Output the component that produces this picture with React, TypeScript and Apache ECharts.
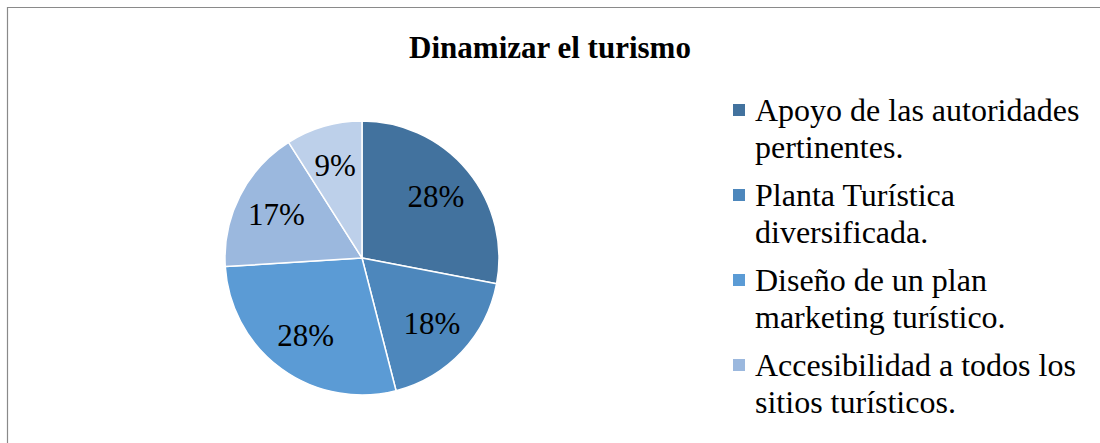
import React, { useEffect, useRef } from 'react';
import * as echarts from 'echarts';

const chartTitle = 'Dinamizar el turismo';
const categories = [
  'Apoyo de las autoridades\npertinentes.',
  'Planta Turística\ndiversificada.',
  'Diseño de un plan\nmarketing turístico.',
  'Accesibilidad a todos los\nsitios turísticos.',
  'Otros',
];
const values = [28, 18, 28, 17, 9];
const colors = ['#42729e', '#4d87bc', '#5b9bd5', '#9bb8de', '#bdd0ea'];
const legendCount = 4;

const FONT = 'Liberation Serif';

export default function App() {
  const ref = useRef<HTMLDivElement>(null);
  useEffect(() => {
    if (!ref.current) return;
    const chart = echarts.init(ref.current, undefined, { renderer: 'svg' });
    const data = categories.map((name, i) => ({
      name,
      value: values[i],
      itemStyle: { color: colors[i] },
    }));
    chart.setOption({
      animation: false,
      backgroundColor: '#ffffff',
      title: {
        text: chartTitle,
        left: 'center',
        top: 29,
        padding: [0, 0, 0, 10],
        textStyle: {
          fontFamily: FONT,
          fontWeight: 'bold',
          fontSize: 31,
          lineHeight: 36,
          color: '#000',
        },
      },
      legend: {
        orient: 'vertical',
        left: 731,
        top: 54.5,
        height: 1000,
        padding: 0,
        itemWidth: 14,
        itemHeight: 14,
        itemGap: -26,
        icon: 'rect',
        selectedMode: false,
        data: categories.slice(0, legendCount),
        formatter: (name: string) => '\n' + name,
        textStyle: {
          fontFamily: FONT,
          fontSize: 32,
          lineHeight: 37,
          color: '#000',
          padding: [0, 0, 0, 4],
        },
      },
      graphic: [
        {
          type: 'rect',
          silent: true,
          z: -10,
          shape: { x: 7.5, y: 7.5, width: 1200, height: 600 },
          style: { fill: 'none', stroke: '#8a8a8a', lineWidth: 1.2 },
        },
      ],
      series: [
        {
          type: 'pie',
          center: [362, 258],
          radius: 137,
          startAngle: 90,
          clockwise: true,
          silent: true,
          label: { show: false },
          labelLine: { show: false },
          itemStyle: { borderColor: '#ffffff', borderWidth: 1.5 },
          emphasis: { disabled: true },
          data,
        },
        {
          type: 'pie',
          center: [362, 258],
          radius: [49, 137],
          startAngle: 90,
          clockwise: true,
          silent: true,
          itemStyle: { color: 'transparent', borderWidth: 0 },
          emphasis: { disabled: true },
          label: {
            show: true,
            position: 'inside',
            formatter: '{d}%',
            fontFamily: FONT,
            fontSize: 31,
            color: '#000',
          },
          labelLine: { show: false },
          data: categories.map((name, i) => ({ name, value: values[i], itemStyle: { color: 'transparent' } })),
        },
      ],
    });
    return () => chart.dispose();
  }, []);
  return (
    <div
      ref={ref}
      style={{ position: 'absolute', left: 0, top: 0, width: 1100, height: 443, background: '#fff' }}
    />
  );
}
